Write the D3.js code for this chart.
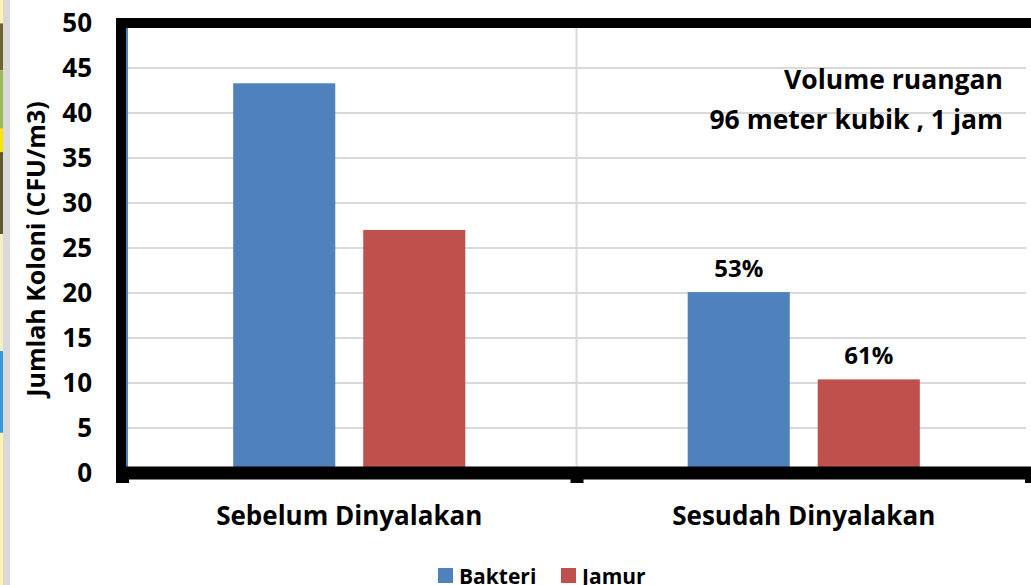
<!DOCTYPE html>
<html>
<head>
<meta charset="utf-8">
<script src="https://cdn.jsdelivr.net/npm/d3@7"></script>
<style>
  body { margin: 0; background: #fff; }
  svg { display: block; font-family: "Open Sans", sans-serif; font-weight: bold; }
</style>
</head>
<body>
<div id="chart"></div>
<script>
// Data
var categories = ["Sebelum Dinyalakan", "Sesudah Dinyalakan"];
var seriesNames = ["Bakteri", "Jamur"];
var bakteri = [43.3, 20.1];
var jamur = [27.0, 10.4];
var bakteriPct = [null, "53%"];
var jamurPct = [null, "61%"];
var yTicks = [0, 5, 10, 15, 20, 25, 30, 35, 40, 45, 50];
var colors = ["#4F81BD", "#C0504D"];

// the cropped photo strip at the far left
var stripColors = ["#fff3b0", "#6b6330", "#9bbb59", "#f7e600", "#5e5a2c", "#f5efc8", "#3a9ad9", "#fff3b0"];
var stripStops = [0, 0.04, 0.12, 0.22, 0.26, 0.40, 0.60, 0.74, 1];

var width = 1031, height = 585;
var svg = d3.select("#chart").append("svg")
  .attr("width", width)
  .attr("height", height);

// left strip
svg.selectAll(".strip")
  .data(stripColors)
  .enter().append("rect")
  .attr("x", 0)
  .attr("width", 3)
  .attr("y", function(d, i) { return stripStops[i] * height; })
  .attr("height", function(d, i) { return (stripStops[i + 1] - stripStops[i]) * height; })
  .attr("fill", function(d) { return d; });
svg.append("rect").attr("x", 3).attr("y", 0).attr("width", 7).attr("height", height).attr("fill", "#d9d9d9");

var plot = { left: 122, right: 1031, top: 23, bottom: 473 };

var y = d3.scaleLinear().domain([0, 50]).range([plot.bottom, plot.top]);
var x0 = d3.scaleBand().domain(categories).range([plot.left, plot.right]);
var x1 = d3.scaleBand().domain(seriesNames).range([0, x0.bandwidth()])
  .paddingInner(0.215).paddingOuter(0.855);

// gridlines
svg.selectAll(".grid")
  .data(yTicks.filter(function(d) { return d > 0 && d < 50; }))
  .enter().append("line")
  .attr("x1", plot.left + 4).attr("x2", plot.right - 5)
  .attr("y1", function(d) { return y(d); })
  .attr("y2", function(d) { return y(d); })
  .attr("stroke", "#d9d9d9").attr("stroke-width", 2);

// vertical separator between categories
svg.append("line")
  .attr("x1", x0(categories[1])).attr("x2", x0(categories[1]))
  .attr("y1", plot.top).attr("y2", plot.bottom)
  .attr("stroke", "#d9d9d9").attr("stroke-width", 2);

// bars
var rows = [];
categories.forEach(function(c, i) {
  rows.push({ cat: c, s: seriesNames[0], v: bakteri[i], label: bakteriPct[i] });
  rows.push({ cat: c, s: seriesNames[1], v: jamur[i], label: jamurPct[i] });
});

svg.selectAll(".bar")
  .data(rows)
  .enter().append("rect")
  .attr("x", function(d) { return x0(d.cat) + x1(d.s); })
  .attr("width", x1.bandwidth())
  .attr("y", function(d) { return y(d.v); })
  .attr("height", function(d) { return y(0) - y(d.v); })
  .attr("fill", function(d) { return colors[seriesNames.indexOf(d.s)]; });

svg.selectAll(".pct")
  .data(rows.filter(function(d) { return d.label; }))
  .enter().append("text")
  .attr("x", function(d) { return x0(d.cat) + x1(d.s) + x1.bandwidth() / 2; })
  .attr("y", function(d) { return y(d.v) - 15; })
  .attr("text-anchor", "middle")
  .attr("font-size", 24)
  .text(function(d) { return d.label; });

// frame
svg.append("line")
  .attr("x1", plot.left + 5).attr("x2", plot.left + 5)
  .attr("y1", plot.top).attr("y2", plot.bottom)
  .attr("stroke", colors[0]).attr("stroke-width", 2);
svg.append("rect")
  .attr("x", plot.left - 1).attr("y", plot.top)
  .attr("width", plot.right - plot.left + 10).attr("height", plot.bottom - plot.top)
  .attr("fill", "none").attr("stroke", "#000").attr("stroke-width", 10);
svg.append("line")
  .attr("x1", plot.left - 6).attr("x2", width)
  .attr("y1", plot.bottom).attr("y2", plot.bottom)
  .attr("stroke", "#000").attr("stroke-width", 13);

// x axis ticks (category boundaries)
var xBounds = [plot.left, x0(categories[1]), plot.right];
svg.selectAll(".xtick")
  .data(xBounds)
  .enter().append("rect")
  .attr("x", function(d) { return d - 6; })
  .attr("width", 13)
  .attr("y", plot.bottom)
  .attr("height", 10)
  .attr("fill", "#000");

// y tick labels
svg.selectAll(".ylab")
  .data(yTicks)
  .enter().append("text")
  .attr("x", 92)
  .attr("y", function(d) { return y(d); })
  .attr("dy", "0.36em")
  .attr("text-anchor", "end")
  .attr("font-size", 26)
  .text(function(d) { return d; });

// x category labels
svg.selectAll(".xlab")
  .data(categories)
  .enter().append("text")
  .attr("x", function(d) { return x0(d) + x0.bandwidth() / 2; })
  .attr("y", 525)
  .attr("text-anchor", "middle")
  .attr("font-size", 26)
  .text(function(d) { return d; });

// y axis title
svg.append("text")
  .attr("transform", "translate(45," + 249 + ") rotate(-90)")
  .attr("text-anchor", "middle")
  .attr("font-size", 25)
  .text("Jumlah Koloni (CFU/m3)");

// annotation
svg.append("text").attr("x", 1003).attr("y", 89).attr("text-anchor", "end")
  .attr("font-size", 26.5).text("Volume ruangan");
svg.append("text").attr("x", 1003).attr("y", 129).attr("text-anchor", "end")
  .attr("font-size", 26.5).text("96 meter kubik , 1 jam");

// legend
var legend = svg.selectAll(".leg")
  .data(seriesNames)
  .enter().append("g")
  .attr("transform", function(d, i) { return "translate(" + (i === 0 ? 438 : 561) + ",568)"; });
legend.append("rect").attr("width", 15).attr("height", 15)
  .attr("fill", function(d, i) { return colors[i]; });
legend.append("text").attr("x", 21).attr("y", 16).attr("font-size", 21)
  .text(function(d) { return d; });
</script>
</body>
</html>
